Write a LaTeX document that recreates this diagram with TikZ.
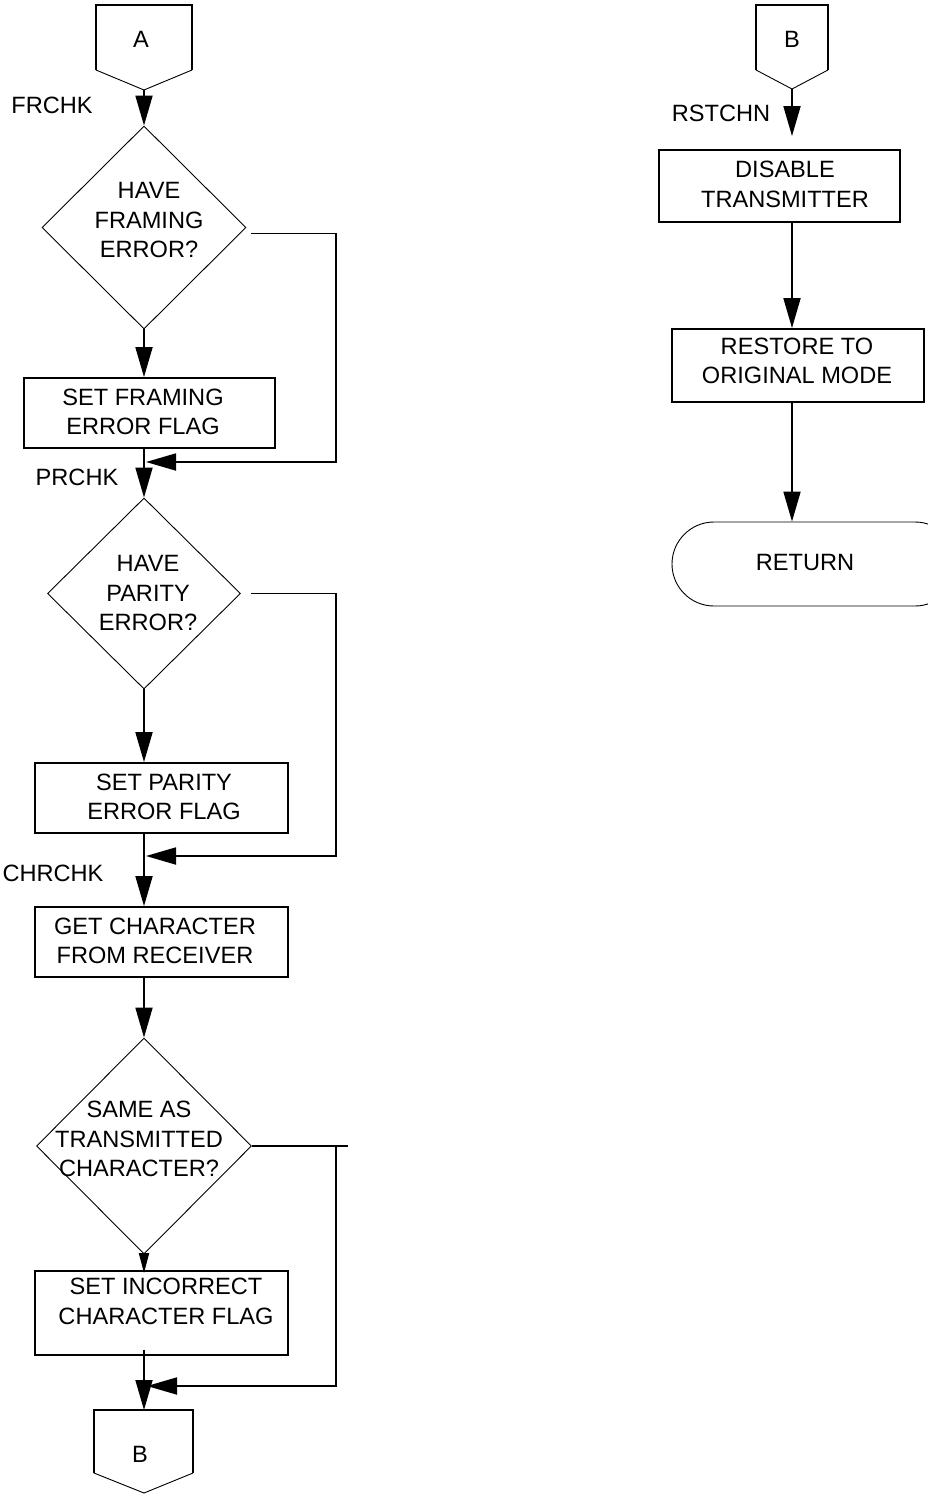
\documentclass[tikz,border=0pt]{standalone}
\usepackage{fontspec}
\setmainfont{Liberation Sans}
\usetikzlibrary{arrows.meta,shapes.geometric}
\begin{document}
\begin{tikzpicture}[x=1pt,y=-1pt,
  every node/.style={font=\fontsize{23.6}{29.5}\selectfont, align=center, inner sep=0pt},
  flow/.style={line width=1.8pt},
  arr/.style={-{Triangle[length=30pt,width=17pt]}},
  sarr/.style={-{Triangle[length=20pt,width=10pt]}},
  box/.style={draw, rectangle, line width=1.8pt},
  dec/.style={draw, diamond, line width=0.9pt},
  pent/.style={line width=1.8pt},
  vee/.style={line width=0.9pt}
]
\useasboundingbox (0,0) rectangle (927,1494);

% ---------- left column ----------
% connector A
\draw[pent] (96,70) coordinate (cAsw) -- (96,5) -- (192,5) -- (192,70) coordinate (cAse);
\draw[vee] (cAsw) -- (144,90) coordinate (cAtip) -- (cAse);
\node (cA) at (141,39) {A};

\node (lFR) at (52,105) {FRCHK};

% decision 1
\node[dec, minimum width=204pt, minimum height=203pt] (D1) at (144,227.5) {};
\node (tD1) at (149,220) {HAVE\\FRAMING\\ERROR?};

% box 1
\node[box, minimum width=251pt, minimum height=70pt] (B1) at (149.5,413) {};
\node (tB1) at (143,412) {SET FRAMING\\ERROR FLAG};

\coordinate (rail) at (336,0);
\coordinate (m1) at (146,462);
\node (lPR) at (77,477) {PRCHK};

% decision 2
\node[dec, minimum width=193pt, minimum height=191pt] (D2) at (144,593.5) {};
\node (tD2) at (148,593) {HAVE\\PARITY\\ERROR?};

% box 2
\node[box, minimum width=253pt, minimum height=70pt] (B2) at (161.5,798) {};
\node (tB2) at (164,797) {SET PARITY\\ERROR FLAG};

\coordinate (m2) at (146,856);
\node (lCH) at (53,873) {CHRCHK};

% box 3
\node[box, minimum width=253pt, minimum height=70pt] (B3) at (161.5,942) {};
\node (tB3) at (155,941) {GET CHARACTER\\FROM RECEIVER};

% decision 3
\node[dec, minimum width=215pt, minimum height=216pt] (D3) at (144,1146) {};
\node (tD3) at (139,1139) {SAME AS\\TRANSMITTED\\CHARACTER?};
\coordinate (d3tick) at (348,1146);

% box 4
\node[box, minimum width=253pt, minimum height=84pt] (B4) at (161.5,1313) {};
\node (tB4) at (166,1301.5) {SET INCORRECT\\CHARACTER FLAG};

\coordinate (m3) at (147,1386);

% connector B (bottom)
\draw[pent] (94,1473) coordinate (cBsw) -- (94,1410) coordinate (cBnw) -- (193,1410) -- (193,1473) coordinate (cBse);
\draw[vee] (cBsw) -- (144,1493) coordinate (cBtip) -- (cBse);
\coordinate (cBtop) at (144,1410);
\node (cB) at (140,1454) {B};

% flow lines left
\draw[flow,arr] (cAtip) -- (D1.north);
\draw[flow,arr] (D1.south) -- (D1.south |- B1.north);
\draw[flow,arr] (D1.south |- B1.south) -- (D2.north);
\draw[flow,arr] (D2.south) -- (D2.south |- B2.north);
\draw[flow,arr] (D2.south |- B2.south) -- (D2.south |- B3.north);
\draw[flow,arr] (D2.south |- B3.south) -- (D3.north);
\draw[flow,sarr] (D3.south) -- ([yshift=-3pt]D3.south |- B4.north);
\draw[flow,arr] ([yshift=6pt]D3.south |- B4.south) -- (cBtop);

% loops
\draw[flow,arr] ([xshift=5pt,yshift=-6pt]D1.east) -| (rail |- m1) -- (m1);
\draw[flow,arr] ([xshift=10pt]D2.east) -| (rail |- m2) -- (m2);
\draw[flow] (D3.east) -- (d3tick);
\draw[flow,arr] (rail |- D3.east) |- (m3);

% ---------- right column ----------
\draw[pent] (756,70) coordinate (cRsw) -- (756,5) -- (828,5) -- (828,70) coordinate (cRse);
\draw[vee] (cRsw) -- (792,89) coordinate (cRtip) -- (cRse);
\node (cR) at (792,39) {B};

\node (lRS) at (721,113) {RSTCHN};

\node[box, minimum width=241pt, minimum height=72pt] (R1) at (779.5,186) {};
\node (tR1) at (785,184.5) {DISABLE\\TRANSMITTER};
\node[box, minimum width=252pt, minimum height=73pt] (R2) at (798,365.5) {};
\node (tR2) at (797,361) {RESTORE TO\\ORIGINAL MODE};

\node[draw, line width=0.9pt, rectangle, rounded corners=42pt, minimum width=285pt, minimum height=84pt] (RET) at (814.5,564) {};
\node (tRET) at (805,562) {RETURN};

\draw[flow,arr] (cRtip) -- ([yshift=13pt]cRtip |- R1.north);
\draw[flow,arr] (cRtip |- R1.south) -- (cRtip |- R2.north);
\draw[flow,arr] (cRtip |- R2.south) -- (cRtip |- RET.north);
\end{tikzpicture}
\end{document}
